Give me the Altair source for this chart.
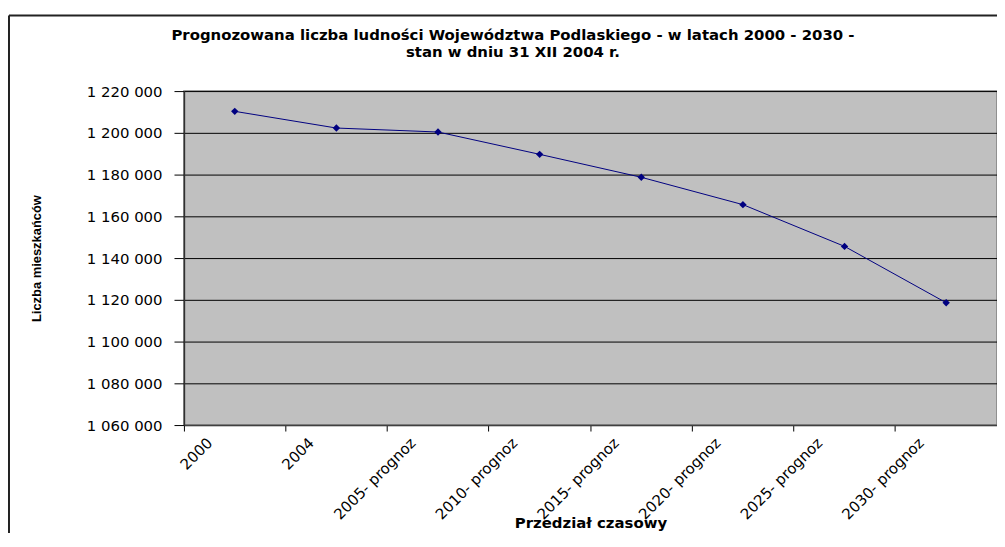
import altair as alt
import pandas as pd

categories = ["2000", "2004", "2005- prognoz", "2010- prognoz", "2015- prognoz",
              "2020- prognoz", "2025- prognoz", "2030- prognoz"]
population = [1210300, 1202300, 1200400, 1189700, 1178700, 1165600, 1145600, 1118600]
y_ticks = [1060000, 1080000, 1100000, 1120000, 1140000, 1160000, 1180000, 1200000, 1220000]
title_lines = ["Prognozowana liczba ludności Województwa Podlaskiego - w latach 2000 - 2030 -",
               "stan w dniu 31 XII 2004 r."]
x_title = "Przedział czasowy"
y_title = "Liczba mieszkańców"

df = pd.DataFrame({"okres": categories, "ludnosc": population})

W, H = 818, 336

x_scale = alt.Scale(type="band", paddingInner=0, paddingOuter=0)

x_enc = alt.X(
    "okres:N",
    sort=categories,
    scale=x_scale,
    axis=alt.Axis(
        title=x_title,
        bandPosition=0,
        labelAngle=-45,
        labelAlign="right",
        labelBaseline="top",
        labelOffset=-30,
        labelPadding=4,
        labelFont="DejaVu Sans",
        labelFontSize=15,
        labelColor="black",
        tickSize=6,
        tickColor="black",
        domainColor="#404040",
        domainWidth=1.5,
        titleFont="DejaVu Sans",
        titleFontSize=15,
        titleFontWeight="bold",
        titleColor="black",
        titleX=W / 2,
        titleY=98,
        titleAlign="center",
        titleBaseline="middle",
        grid=False,
    ),
)

y_enc = alt.Y(
    "ludnosc:Q",
    scale=alt.Scale(domain=[1060000, 1220000], nice=False, zero=False),
    axis=alt.Axis(
        title=y_title,
        values=y_ticks,
        labelExpr="replace(replace(format(datum.value, ',d'), ',', ' '), ',', ' ')",
        labelFont="DejaVu Sans",
        labelFontSize=15,
        labelColor="black",
        labelPadding=12,
        tickSize=10,
        tickColor="black",
        domainColor="#303030",
        domainWidth=1.5,
        grid=True,
        gridColor="black",
        gridWidth=1,
        titleFont="Liberation Sans",
        titleFontSize=13,
        titleFontWeight="bold",
        titleColor="black",
        titleX=-148,
        titleY=H / 2,
        titleAngle=270,
        titleAlign="center",
        titleBaseline="middle",
    ),
)

base = alt.Chart(df)
line = base.mark_line(color="#000080", strokeWidth=1).encode(x=x_enc, y=y_enc)
points = base.mark_point(shape="diamond", filled=True, size=55, color="#000080", opacity=1).encode(
    x=alt.X("okres:N", sort=categories, scale=x_scale), y="ludnosc:Q"
)

frame_df = pd.DataFrame({"k": [0]})
border_left = alt.Chart(frame_df).mark_rule(color="#222222", strokeWidth=2).encode(
    x=alt.value(-176), y=alt.value(-76), y2=alt.value(460)
)
border_top = alt.Chart(frame_df).mark_rule(color="#222222", strokeWidth=2).encode(
    x=alt.value(-176), x2=alt.value(W), y=alt.value(-76)
)

chart = alt.layer(border_left, border_top, line, points).properties(
    width=W,
    height=H,
    padding={"left": 177, "top": 82, "right": 0, "bottom": 107},
    autosize=alt.AutoSizeParams(type="none"),
    background="white",
    title=alt.TitleParams(
        text=title_lines,
        anchor="middle",
        frame="group",
        dx=-78,
        offset=-46,
        font="DejaVu Sans",
        fontSize=15,
        fontWeight="bold",
        color="black",
        lineHeight=17,
    ),
).configure_view(
    fill="#C0C0C0",
    stroke="#808080",
    strokeWidth=1.5,
)

chart.save("out.html", embed_options={"renderer": "svg", "actions": False})
